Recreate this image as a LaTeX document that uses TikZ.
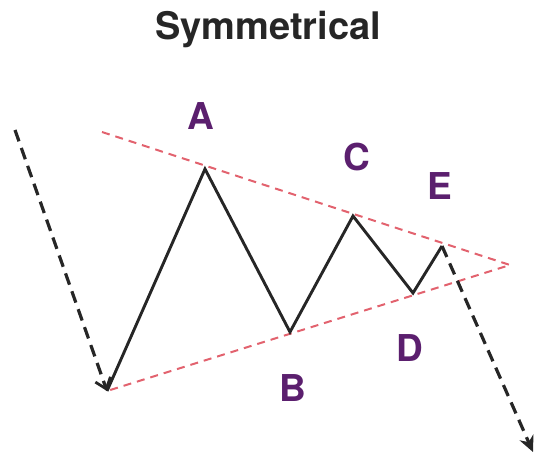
\documentclass[tikz,border=0pt]{standalone}
\usepackage{fontspec}
\setmainfont{TeX Gyre Heros}
\usetikzlibrary{arrows.meta}
\definecolor{lblpurple}{HTML}{5B1F6E}
\definecolor{trendred}{HTML}{E2626E}
\begin{document}
\begin{tikzpicture}[x=1pt,y=-1pt,
  lbl/.style={text=lblpurple,font=\bfseries\fontsize{37}{40}\selectfont,inner sep=0pt},
  ttl/.style={text=black!85,font=\bfseries\fontsize{38}{42}\selectfont,inner sep=0pt},
  wave/.style={line width=2.9pt,black!85,line join=miter},
  trend/.style={line width=2pt,trendred,dash pattern=on 8pt off 6pt},
  brk/.style={line width=3.2pt,black!85,dash pattern=on 12pt off 7pt}]
\useasboundingbox (0,0) rectangle (539,464);
\node[ttl] (title) at (268,30) {Symmetrical};
\coordinate (S) at (15,130);
\coordinate (X) at (107,391);
\coordinate (A) at (205,169);
\coordinate (B) at (290,332);
\coordinate (C) at (353,216);
\coordinate (D) at (413,293);
\coordinate (E) at (442,246);
\coordinate (P) at (510,265);
\coordinate (U) at (102,132);
\coordinate (T) at (533,452);
\draw[trend] (U) -- (P) -- (X);
\draw[wave] (X) -- (A) -- (B) -- (C) -- (D) -- (E);
\draw[brk,-{Straight Barb[length=10pt,width=16pt,line width=2.8pt]}] (S) -- (X);
\draw[brk,-{Stealth[length=16pt,width=15pt]}] (E) -- (T);
\node[lbl] (la) at (201,116) {A};
\node[lbl] (lc) at (357,157) {C};
\node[lbl] (le) at (440,186) {E};
\node[lbl] (lb) at (293,388) {B};
\node[lbl] (ld) at (410,348) {D};
\end{tikzpicture}
\end{document}
